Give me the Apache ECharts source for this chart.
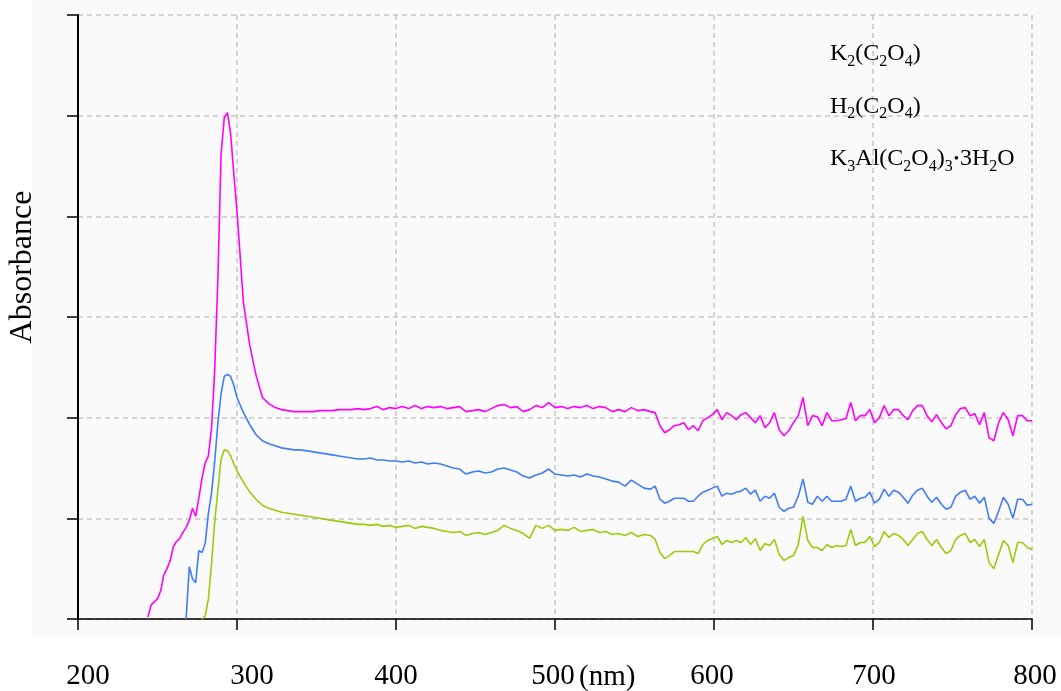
<!DOCTYPE html>
<html>
<head>
<meta charset="utf-8">
<script src="https://cdn.jsdelivr.net/npm/echarts@6/dist/echarts.min.js"></script>
<style>
  html, body { margin: 0; padding: 0; background: #ffffff; }
  #chart { width: 1061px; height: 691px; }
</style>
</head>
<body>
<div id="chart"></div>
<script>
// Wavelength grid (nm) shared by the three absorbance spectra
const wavelength = [
  244, 246, 248, 250, 252, 254, 256, 258,
  260, 262, 264, 266, 268, 270, 272, 274,
  276, 278, 280, 282, 284, 286, 288, 290,
  292, 294, 296, 298, 300,
  304, 308, 312, 316, 320, 324, 328, 332,
  336, 340, 344, 348, 352, 356, 360, 364,
  368, 372, 376, 380, 384, 388, 392, 396,
  400, 404, 408, 412, 416, 420, 424, 428,
  432, 436, 440, 444, 448, 452, 456, 460,
  464, 468, 472, 476, 480, 484, 488, 492,
  496, 500, 504, 508, 512, 516, 520, 524,
  528, 532, 536, 540, 544, 548, 552, 556,
  560,
  563, 566, 569, 572, 575, 578, 581, 584,
  587, 590, 593, 596, 599, 602, 605, 608,
  611, 614, 617, 620, 623, 626, 629, 632,
  635, 638, 641, 644, 647, 650, 653, 656,
  659, 662, 665, 668, 671, 674, 677, 680,
  683, 686, 689, 692, 695, 698, 701, 704,
  707, 710, 713, 716, 719, 722, 725, 728,
  731, 734, 737, 740, 743, 746, 749, 752,
  755, 758, 761, 764, 767, 770, 773, 776,
  779, 782, 785, 788, 791, 794, 797, 800
];

// K2(C2O4) absorbance
const k2Oxalate = [
  0.02, 0.14, 0.17, 0.20, 0.28, 0.44, 0.50, 0.58,
  0.72, 0.77, 0.80, 0.86, 0.91, 0.98, 1.10, 1.02,
  1.20, 1.40, 1.55, 1.62, 1.90, 2.48, 3.40, 4.62,
  4.98, 5.03, 4.82, 4.42, 4.05,
  3.15, 2.72, 2.42, 2.20, 2.14, 2.10, 2.08, 2.07,
  2.06, 2.06, 2.06, 2.06, 2.07, 2.07, 2.07, 2.08,
  2.08, 2.08, 2.09, 2.08, 2.09, 2.11, 2.08, 2.10,
  2.09, 2.11, 2.09, 2.12, 2.09, 2.11, 2.10, 2.11,
  2.09, 2.10, 2.11, 2.06, 2.07, 2.08, 2.06, 2.09,
  2.12, 2.13, 2.10, 2.11, 2.06, 2.08, 2.12, 2.10,
  2.15, 2.10, 2.11, 2.09, 2.11, 2.10, 2.12, 2.09,
  2.11, 2.10, 2.06, 2.08, 2.06, 2.10, 2.07, 2.08,
  2.06,
  2.05, 1.92, 1.85, 1.88, 1.92, 1.93, 1.95, 1.88,
  1.92, 1.87, 1.97, 2.00, 2.03, 2.08, 1.98, 2.05,
  2.02, 1.98, 2.03, 2.05, 2.00, 1.95, 2.02, 1.90,
  1.95, 2.05, 1.88, 1.82, 1.87, 1.95, 2.02, 2.20,
  1.92, 2.02, 2.01, 1.92, 2.05, 1.97, 1.97, 1.98,
  1.99, 2.15, 1.97, 2.02, 2.02, 2.08, 1.95, 2.00,
  2.12, 2.02, 2.08, 2.08, 2.02, 1.98, 2.07, 2.12,
  2.12, 2.02, 1.96, 2.03, 1.95, 1.89, 1.92, 2.03,
  2.09, 2.10, 2.02, 2.04, 1.93, 2.05, 1.80, 1.77,
  1.95, 2.05, 1.98, 1.82, 2.02, 2.02, 1.97, 1.97
];

// H2(C2O4) absorbance
const h2Oxalate = [
  null, null, null, null, null, null, null, null,
  null, null, null, null, 0.00, 0.52, 0.40, 0.36,
  0.68, 0.66, 0.75, 1.05, 1.25, 1.57, 1.95, 2.24,
  2.41, 2.43, 2.41, 2.32, 2.20,
  2.05, 1.93, 1.83, 1.77, 1.74, 1.72, 1.70, 1.69,
  1.68, 1.68, 1.67, 1.66, 1.65, 1.64, 1.63, 1.62,
  1.61, 1.60, 1.59, 1.59, 1.60, 1.58, 1.58, 1.57,
  1.57, 1.56, 1.57, 1.55, 1.56, 1.54, 1.55, 1.54,
  1.52, 1.50, 1.49, 1.44, 1.46, 1.47, 1.45, 1.46,
  1.49, 1.50, 1.48, 1.46, 1.42, 1.40, 1.43, 1.45,
  1.49, 1.44, 1.43, 1.42, 1.43, 1.41, 1.44, 1.42,
  1.41, 1.39, 1.37, 1.36, 1.32, 1.38, 1.34, 1.30,
  1.29,
  1.32, 1.19, 1.15, 1.17, 1.20, 1.20, 1.20, 1.17,
  1.17, 1.22, 1.26, 1.28, 1.30, 1.32, 1.22, 1.25,
  1.24, 1.26, 1.27, 1.30, 1.24, 1.28, 1.17, 1.22,
  1.20, 1.25, 1.11, 1.07, 1.10, 1.11, 1.22, 1.39,
  1.16, 1.14, 1.22, 1.17, 1.22, 1.17, 1.17, 1.17,
  1.19, 1.32, 1.17, 1.20, 1.21, 1.26, 1.15, 1.19,
  1.29, 1.22, 1.28, 1.26, 1.21, 1.15, 1.23, 1.28,
  1.30, 1.22, 1.16, 1.21, 1.14, 1.09, 1.11, 1.22,
  1.26, 1.28, 1.19, 1.22, 1.15, 1.21, 1.00, 0.95,
  1.07, 1.21, 1.14, 1.00, 1.19, 1.19, 1.13, 1.14
];

// K3Al(C2O4)3·3H2O absorbance
const k3AlOxalate = [
  null, null, null, null, null, null, null, null,
  null, null, null, null, null, null, null, null,
  null, 0.00, 0.03, 0.20, 0.55, 0.97, 1.28, 1.59,
  1.68, 1.67, 1.62, 1.54, 1.47,
  1.36, 1.26, 1.19, 1.13, 1.10, 1.08, 1.06, 1.05,
  1.04, 1.03, 1.02, 1.01, 1.00, 0.99, 0.98, 0.97,
  0.96, 0.95, 0.94, 0.94, 0.93, 0.94, 0.92, 0.93,
  0.91, 0.92, 0.93, 0.90, 0.92, 0.91, 0.90, 0.88,
  0.87, 0.86, 0.87, 0.83, 0.85, 0.86, 0.84, 0.86,
  0.88, 0.93, 0.90, 0.88, 0.85, 0.80, 0.93, 0.90,
  0.93, 0.88, 0.89, 0.88, 0.91, 0.87, 0.88, 0.89,
  0.86, 0.87, 0.84, 0.85, 0.83, 0.86, 0.82, 0.84,
  0.83,
  0.79, 0.66, 0.60, 0.63, 0.67, 0.67, 0.67, 0.67,
  0.67, 0.65, 0.74, 0.78, 0.80, 0.82, 0.74, 0.78,
  0.76, 0.78, 0.76, 0.81, 0.74, 0.80, 0.68, 0.75,
  0.73, 0.79, 0.64, 0.58, 0.61, 0.63, 0.74, 1.02,
  0.78, 0.71, 0.71, 0.68, 0.74, 0.71, 0.73, 0.72,
  0.73, 0.89, 0.73, 0.76, 0.76, 0.82, 0.72, 0.76,
  0.87, 0.81, 0.85, 0.83, 0.79, 0.73, 0.79, 0.85,
  0.87, 0.79, 0.73, 0.79, 0.71, 0.65, 0.68, 0.79,
  0.83, 0.85, 0.76, 0.79, 0.72, 0.79, 0.56, 0.50,
  0.64, 0.78, 0.73, 0.56, 0.76, 0.76, 0.71, 0.69
];

const seriesNames = ['K2(C2O4)', 'H2(C2O4)', 'K3Al(C2O4)3·3H2O'];
const seriesValues = [k2Oxalate, h2Oxalate, k3AlOxalate];
const seriesColors = ['#ff00ff', '#3f7cf6', '#9acb0c'];

// Legend text with chemical subscripts
const legendRich = {
  'K2(C2O4)': '{t|K}{s|2}{t|(C}{s|2}{t|O}{s|4}{t|)}',
  'H2(C2O4)': '{t|H}{s|2}{t|(C}{s|2}{t|O}{s|4}{t|)}',
  'K3Al(C2O4)3·3H2O': '{t|K}{s|3}{t|Al(C}{s|2}{t|O}{s|4}{t|)}{s|3}{d|•}{t|3H}{s|2}{t|O}'
};

// Small horizontal nudges of the wavelength labels (left/right padding)
const tickLabelPad = {
  200: [0, 0, 0, 20],
  300: [0, 0, 0, 30],
  400: [0, 0, 0, 0],
  500: [0, 4, 0, 0],
  600: [0, 4, 0, 0],
  700: [0, 0, 0, 2],
  800: [0, 0, 0, 6]
};

const serif = '"Liberation Serif", "Times New Roman", serif';

const chart = echarts.init(document.getElementById('chart'), null, { renderer: 'canvas' });

const series = seriesNames.map((name, k) => ({
  name: name,
  type: 'line',
  showSymbol: false,
  symbol: 'none',
  animation: false,
  lineStyle: { width: 1.6, color: seriesColors[k] },
  itemStyle: { color: seriesColors[k] },
  data: wavelength
    .map((w, i) => [w, seriesValues[k][i]])
    .filter(p => p[1] !== null),
  z: 3
}));

const labelRich = {};
Object.keys(tickLabelPad).forEach(v => {
  labelRich['w' + v] = {
    fontSize: 29,
    fontFamily: serif,
    color: '#000000',
    padding: tickLabelPad[v]
  };
});

chart.setOption({
  backgroundColor: '#ffffff',
  animation: false,
  grid: { left: 78, right: 29, top: 15, bottom: 71 },
  graphic: [
    {
      type: 'rect',
      z: -10,
      silent: true,
      shape: { x: 32, y: 0, width: 1029, height: 636 },
      style: { fill: '#fafafa' }
    },
    {
      type: 'text',
      x: 23,
      y: 267,
      rotation: Math.PI / 2,
      style: {
        text: 'Absorbance',
        font: '32px ' + serif,
        fill: '#000000',
        align: 'center',
        verticalAlign: 'middle'
      }
    },
    {
      type: 'text',
      x: 579,
      y: 677,
      style: {
        text: '(nm)',
        font: '29px ' + serif,
        fill: '#000000',
        align: 'left',
        verticalAlign: 'middle'
      }
    }
  ],
  legend: {
    orient: 'vertical',
    left: 820,
    top: 37,
    icon: 'none',
    itemWidth: 0,
    itemHeight: 14,
    itemGap: 25,
    selectedMode: false,
    data: seriesNames,
    formatter: name => legendRich[name],
    textStyle: {
      color: '#000000',
      fontFamily: serif,
      rich: {
        t: { fontSize: 24, fontFamily: serif, color: '#000000', lineHeight: 31 },
        s: { fontSize: 16, fontFamily: serif, color: '#000000', lineHeight: 20, verticalAlign: 'bottom' },
        d: { fontSize: 15, fontFamily: serif, color: '#000000', lineHeight: 31, padding: [0, 1, 0, 1] }
      }
    }
  },
  xAxis: {
    type: 'value',
    min: 200,
    max: 800,
    interval: 100,
    axisLine: { show: true, onZero: false, lineStyle: { color: '#000000', width: 1.5 } },
    axisTick: { show: true, inside: false, length: 11, lineStyle: { color: '#000000', width: 1.5 } },
    axisLabel: {
      show: true,
      margin: 43,
      color: '#000000',
      fontSize: 29,
      fontFamily: serif,
      showMinLabel: true,
      showMaxLabel: true,
      formatter: v => '{w' + v + '|' + v + '}',
      rich: labelRich
    },
    splitLine: { show: true, lineStyle: { color: '#c8c8c8', width: 1.5, type: [5, 4] } }
  },
  yAxis: {
    type: 'value',
    min: 0,
    max: 6,
    interval: 1,
    axisLine: { show: true, onZero: false, lineStyle: { color: '#000000', width: 2 } },
    axisTick: { show: true, inside: false, length: 11, lineStyle: { color: '#000000', width: 1.5 } },
    axisLabel: { show: false },
    splitLine: { show: true, lineStyle: { color: '#c8c8c8', width: 1.5, type: [5, 4] } }
  },
  series: series
});
</script>
</body>
</html>
